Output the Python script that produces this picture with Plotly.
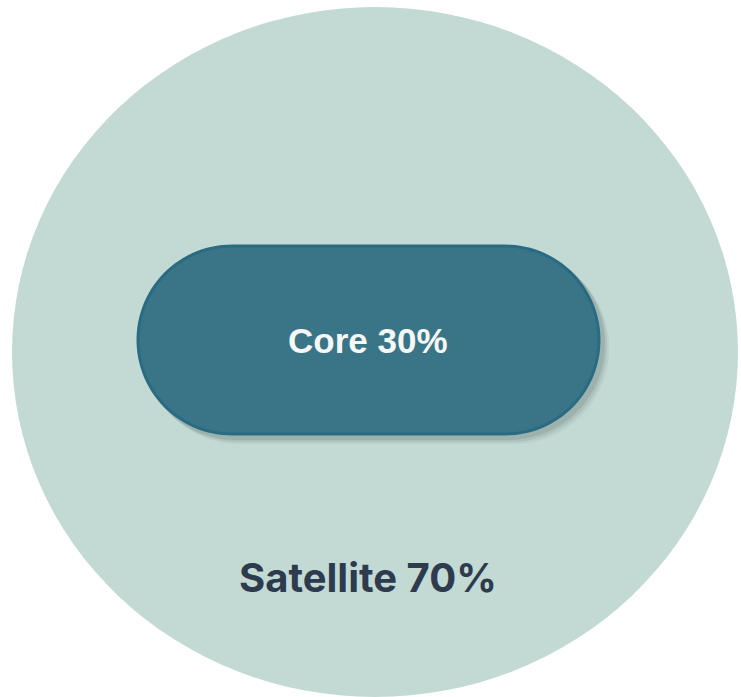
import numpy as np
import plotly.graph_objects as go

# Data
categories = ["Core", "Satellite"]
values = [30, 70]

W, H = 741, 697

fig = go.Figure()

def pill_path(x0, x1, y0, y1, n=60):
    r = (y1 - y0) / 2.0
    cy = (y0 + y1) / 2.0
    cxl, cxr = x0 + r, x1 - r
    t1 = np.linspace(-np.pi / 2, np.pi / 2, n)
    right = [(cxr + r * np.cos(t), cy + r * np.sin(t)) for t in t1]
    t2 = np.linspace(np.pi / 2, 3 * np.pi / 2, n)
    left = [(cxl + r * np.cos(t), cy + r * np.sin(t)) for t in t2]
    pts = right + left
    s = "M %.2f,%.2f " % pts[0]
    s += " ".join("L %.2f,%.2f" % p for p in pts[1:])
    return s + " Z"

# Outer circle (Satellite)
fig.add_shape(type="circle", xref="x", yref="y", x0=12, x1=738, y0=7, y1=697,
              fillcolor="#C2DAD3", line=dict(width=0))

# Shadow of pill (soft)
for dx, op in [(9, 0.10), (7, 0.14), (5, 0.22)]:
    fig.add_shape(type="path", xref="x", yref="y",
                  path=pill_path(137 + dx - 2, 600 + dx, 245 + dx - 2, 435 + dx),
                  fillcolor="#6b7a76", opacity=op, line=dict(width=0))

# Inner pill (Core)
fig.add_shape(type="path", xref="x", yref="y",
              path=pill_path(138, 599, 246, 434),
              fillcolor="#3A7587", line=dict(color="#2A6B84", width=3))

labels = [f"{c} {v}%" for c, v in zip(categories, values)]

fig.add_annotation(x=368, y=340, xref="x", yref="y", text=labels[0], showarrow=False,
                   font=dict(family="Liberation Sans, Arial, sans-serif", size=35,
                             color="#F6F7F7", weight="bold"))
fig.add_annotation(x=368, y=577, xref="x", yref="y", text=labels[1], showarrow=False,
                   font=dict(family="Inter, sans-serif", size=40, color="#2E3B4E", weight="bold"))

fig.update_layout(
    width=W, height=H, margin=dict(l=0, r=0, t=0, b=0),
    paper_bgcolor="white", plot_bgcolor="white",
    xaxis=dict(range=[0, W], visible=False, fixedrange=True),
    yaxis=dict(range=[H, 0], visible=False, fixedrange=True),
    showlegend=False,
)

fig.write_html("out.html", config={"displayModeBar": False})
# remove default body margin so the figure fills the window exactly
with open("out.html", "r", encoding="utf-8") as f:
    html = f.read()
html = html.replace("<head>", "<head><style>html,body{margin:0;padding:0;overflow:hidden}</style>", 1)
with open("out.html", "w", encoding="utf-8") as f:
    f.write(html)
